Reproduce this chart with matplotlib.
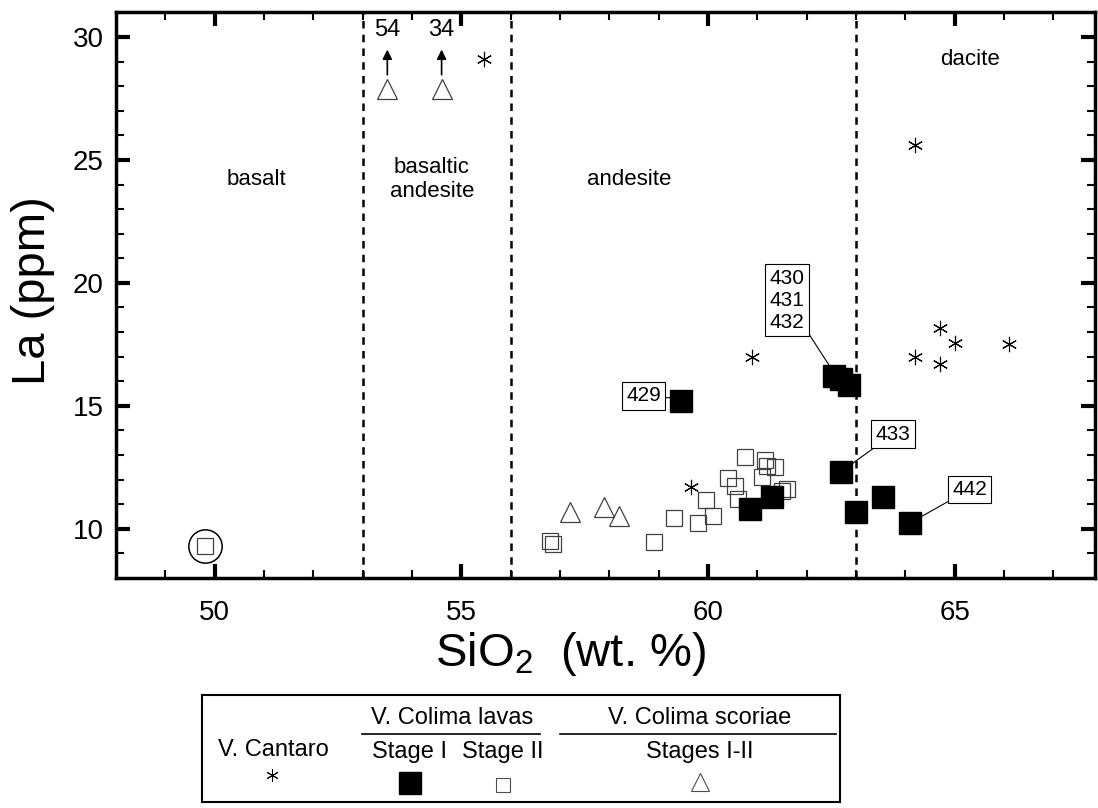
import matplotlib.pyplot as plt
from matplotlib.lines import Line2D

plt.rcParams['font.family'] = ['Liberation Sans', 'DejaVu Sans']
plt.rcParams['mathtext.fontset'] = 'custom'
plt.rcParams['mathtext.rm'] = 'Liberation Sans'

# ----- Data (SiO2 wt.%, La ppm) -----
cantaro_x = [55.45, 60.9, 59.65, 64.2, 64.7, 65.0, 66.1, 64.2, 64.7]
cantaro_y = [29.1, 17.0, 11.7, 25.6, 18.15, 17.55, 17.5, 17.0, 16.7]

stage1_x = [59.45, 62.55, 62.7, 62.85, 62.7, 60.85, 61.3, 63.0, 63.55, 64.1]
stage1_y = [15.2, 16.2, 16.1, 15.85, 12.3, 10.8, 11.3, 10.7, 11.3, 10.25]

stage2_x = [49.8, 56.8, 56.85, 58.9, 59.3, 59.8, 59.95, 60.1, 60.4, 60.55,
            60.6, 60.75, 61.15, 61.2, 61.35, 61.1, 61.6, 61.5]
stage2_y = [9.3, 9.5, 9.4, 9.45, 10.45, 10.25, 11.15, 10.5, 12.05, 11.75,
            11.2, 12.9, 12.8, 12.55, 12.5, 12.1, 11.6, 11.55]

scoriae_x = [57.2, 57.9, 58.2]
scoriae_y = [10.7, 10.9, 10.5]

# off-scale scoriae, drawn at the top with an arrow and true value
offscale_x = [53.5, 54.6]
offscale_y = [27.9, 27.9]
offscale_la = ['54', '34']

field_bounds = [53, 56, 63]
field_names = ['basalt', 'basaltic\nandesite', 'andesite', 'dacite']
field_pos = [(50.85, 24.2), (54.4, 24.2), (58.4, 24.2), (65.3, 29.1)]

sample_labels = ['429', '430\n431\n432', '433', '442']
sample_points = [(59.4, 15.3), (62.55, 16.35), (62.75, 12.4), (64.15, 10.3)]
label_pos = [(58.7, 15.4), (61.6, 19.3), (63.75, 13.85), (65.3, 11.6)]

# ----- Figure -----
fig = plt.figure(figsize=(10.98, 8.08), dpi=100)
ax = fig.add_axes([0.1056, 0.2847, 0.892, 0.700])
ax.set_xlim(48, 67.85)
ax.set_ylim(8, 31)

for xb in field_bounds:
    ax.axvline(xb, color='black', lw=1.8, ls=(0, (3, 2.5)))

for name, (tx, ty) in zip(field_names, field_pos):
    ax.text(tx, ty, name, ha='center', va='center', fontsize=16, linespacing=1.2)

ax.plot(cantaro_x, cantaro_y, ls='none', marker=(6, 2, 0), ms=11,
        mec='black', mew=0.8)
ax.plot(stage2_x, stage2_y, ls='none', marker='s', ms=12, mfc='none',
        mec='0.25', mew=0.9)
ax.plot(scoriae_x, scoriae_y, ls='none', marker='^', ms=15, mfc='none',
        mec='0.25', mew=0.9)
ax.plot(offscale_x, offscale_y, ls='none', marker='^', ms=15, mfc='none',
        mec='0.25', mew=0.9)
ax.plot(stage1_x, stage1_y, ls='none', marker='s', ms=16, mfc='black',
        mec='black')

for ox, oy, lab in zip(offscale_x, offscale_y, offscale_la):
    ax.annotate('', xy=(ox, 29.6), xytext=(ox, oy + 0.45),
                arrowprops=dict(arrowstyle='-|>', color='black', lw=1.2,
                                mutation_scale=14))
    ax.text(ox, 30.3, lab, ha='center', va='center', fontsize=17)

# circle round the basalt sample
ax.plot([stage2_x[0]], [stage2_y[0]], ls='none', marker='o', ms=24,
        mfc='none', mec='black', mew=1.1)

for lab, pt, pos in zip(sample_labels, sample_points, label_pos):
    ax.annotate(lab, xy=pt, xytext=pos, ha='center', va='center',
                fontsize=15, linespacing=1.2,
                bbox=dict(boxstyle='square,pad=0.2', fc='white', ec='black', lw=0.8),
                arrowprops=dict(arrowstyle='-', color='black', lw=0.8,
                                shrinkA=0, shrinkB=2))

ax.set_xticks([50, 55, 60, 65])
ax.set_xticks(range(49, 68), minor=True)
ax.set_yticks([10, 15, 20, 25, 30])
ax.set_yticks(range(9, 31), minor=True)
ax.tick_params(which='both', direction='in', top=True, right=True,
               labelsize=20, width=1.5)
ax.tick_params(axis='x', which='both', pad=16)
ax.tick_params(axis='y', which='both', pad=9)
ax.tick_params(which='major', length=10, width=3)
ax.tick_params(which='minor', length=6)
for sp in ax.spines.values():
    sp.set_linewidth(2.5)

fig.text(0.52, 0.19, r'SiO$_\mathregular{2}$  (wt. %)', ha='center', va='center',
         fontsize=34)
fig.text(0.03, 0.64, 'La (ppm)', rotation=90, ha='center', va='center',
         fontsize=34)

# ----- Legend box -----
lg = fig.add_axes([202 / 1098, 1 - 802 / 808, 638 / 1098, 107 / 808])
lg.set_xlim(202, 840)
lg.set_ylim(802, 695)
lg.set_xticks([])
lg.set_yticks([])
for sp in lg.spines.values():
    sp.set_linewidth(1.5)

lg.text(273, 750, 'V. Cantaro', ha='center', va='center', fontsize=17)
lg.plot([272], [775], marker=(6, 2, 0), ms=9, mec='black', mew=0.7, ls='none')
lg.text(452, 718, 'V. Colima lavas', ha='center', va='center', fontsize=17)
lg.add_line(Line2D([362, 540], [734, 734], color='black', lw=1.2))
lg.text(410, 752, 'Stage I', ha='center', va='center', fontsize=17)
lg.text(503, 752, 'Stage II', ha='center', va='center', fontsize=17)
lg.plot([410], [783], marker='s', ms=16, mfc='black', mec='black', ls='none')
lg.plot([503], [785], marker='s', ms=10, mfc='none', mec='0.3', mew=0.8, ls='none')
lg.text(700, 718, 'V. Colima scoriae', ha='center', va='center', fontsize=17)
lg.add_line(Line2D([560, 836], [734, 734], color='black', lw=1.2))
lg.text(700, 752, 'Stages I-II', ha='center', va='center', fontsize=17)
lg.plot([700], [782], marker='^', ms=13, mfc='none', mec='0.3', mew=0.8, ls='none')

fig.savefig('out.png', dpi=100)
